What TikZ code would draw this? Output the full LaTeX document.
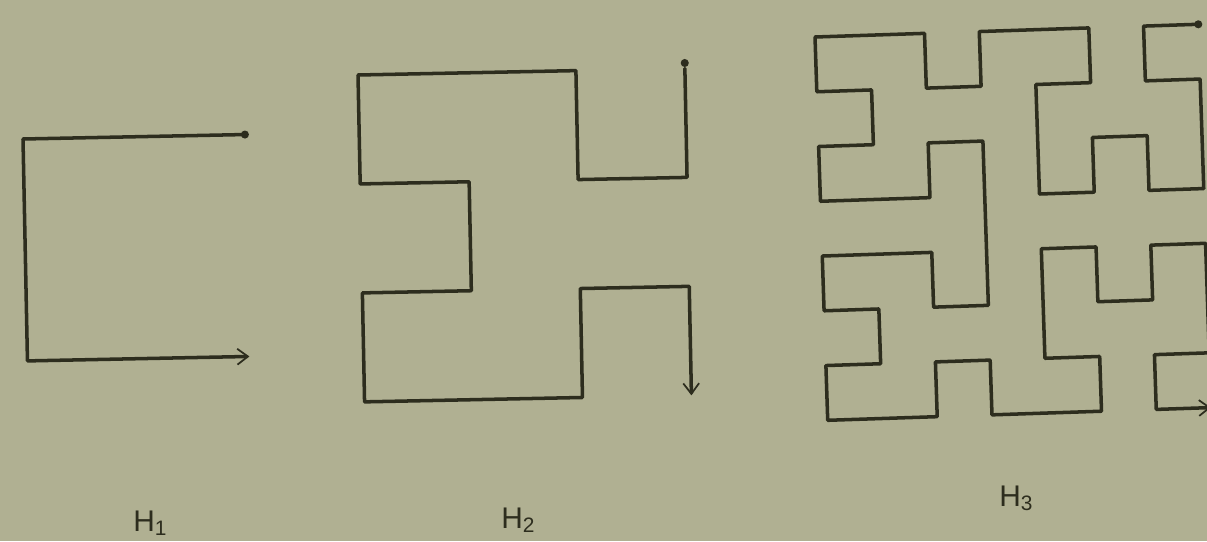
\documentclass[tikz,border=0pt]{standalone}
\usepackage{fontspec}
\setmainfont{Liberation Sans}
\usetikzlibrary{arrows.meta}
\definecolor{paper}{RGB}{176,176,146}
\definecolor{ink}{RGB}{45,45,30}

\begin{document}
\begin{tikzpicture}[
      x=0.02cm, y=-0.02cm,
      line cap=round,
      line join=round,
      curve/.style={ink, line width=2pt,
        -{Straight Barb[length=6pt, width=9pt, line width=1pt]}},
      every node/.style={font=\fontsize{17}{19}\selectfont, text=ink, inner sep=0pt},
    ]
    %% Paper, also the page size.
    \fill[paper] (0,0) rectangle (1207,541);
    \useasboundingbox (0,0) rectangle (1207,541);
    %% H1: a single U on the 2x2 grid, start dot top right.
    \begin{scope}[shift={(23,139)}, x=4.44cm, y=-4.44cm, rotate=1.15]
      \draw[curve] (1,0) -- (0,0) -- (0,1) -- (1,1);
      \fill[ink] (1,0) circle (2.3pt);
    \end{scope}
    %% H2: 4x4 grid, only the corners are listed.
    \begin{scope}[shift={(358,75)}, x=2.18cm, y=-2.18cm, rotate=1.15]
      \draw[curve] (3,0) -- (3,1) -- (2,1) -- (2,0) -- (0,0) -- (0,1)
        -- (1,1) -- (1,2) -- (0,2) -- (0,3) -- (2,3) -- (2,2)
        -- (3,2) -- (3,3);
      \fill[ink] (3,-0.05) circle (2.3pt);
    \end{scope}
    %% H3: 8x8 grid, the right column runs off the page.
    \begin{scope}[shift={(815,37)}, x=1.096cm, y=-1.096cm, rotate=1.9]
      \draw[curve] (7,0) -- (6,0) -- (6,1) -- (7,1) -- (7,3) -- (6,3)
        -- (6,2) -- (5,2) -- (5,3) -- (4,3) -- (4,1) -- (5,1)
        -- (5,0) -- (3,0) -- (3,1) -- (2,1) -- (2,0) -- (0,0)
        -- (0,1) -- (1,1) -- (1,2) -- (0,2) -- (0,3) -- (2,3)
        -- (2,2) -- (3,2) -- (3,5) -- (2,5) -- (2,4) -- (0,4)
        -- (0,5) -- (1,5) -- (1,6) -- (0,6) -- (0,7) -- (2,7)
        -- (2,6) -- (3,6) -- (3,7) -- (5,7) -- (5,6) -- (4,6)
        -- (4,4) -- (5,4) -- (5,5) -- (6,5) -- (6,4) -- (7,4)
        -- (7,6) -- (6,6) -- (6,7) -- (7,7);
      \fill[ink] (7,0) circle (2.3pt);
    \end{scope}
    %% Labels.
    \node[anchor=base west] (hOne)   at (133,531) {H\textsubscript{1}};
    \node[anchor=base west] (hTwo)   at (501,528) {H\textsubscript{2}};
    \node[anchor=base west] (hThree) at (999,506) {H\textsubscript{3}};
  \end{tikzpicture}
\end{document}
